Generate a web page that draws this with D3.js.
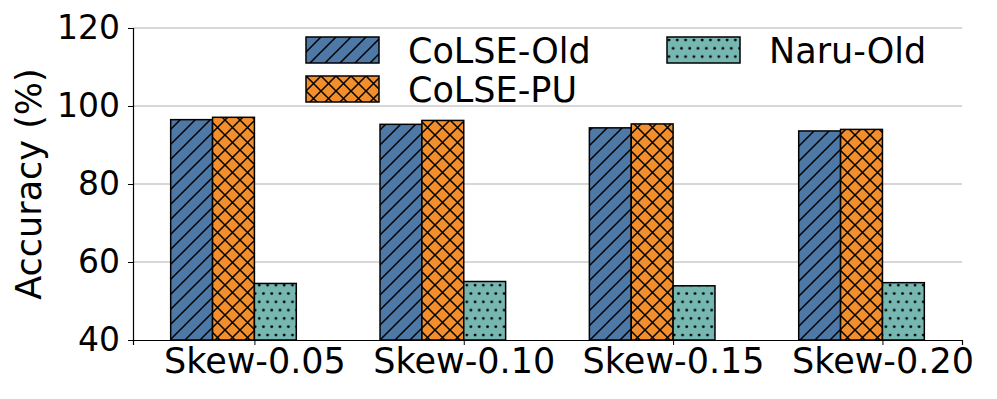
<!DOCTYPE html>
<head>
  <meta charset='utf-8'>
  <title>Accuracy by skew</title>
  <style>
    body { margin: 0; background: #fff; }
    svg text { font-family: "DejaVu Sans", sans-serif; fill: #000; }
  </style>
</head>
<body>
  <div id="chart"></div>
  <script src="https://cdn.jsdelivr.net/npm/d3@7"></script>
  <script type="text/javascript">
    // data
    var categories = ["Skew-0.05", "Skew-0.10", "Skew-0.15", "Skew-0.20"];
    var seriesNames = ["CoLSE-Old", "CoLSE-PU", "Naru-Old"];
    var colseOld = [96.5, 95.3, 94.4, 93.6];
    var colsePU = [97.1, 96.3, 95.4, 94.0];
    var naruOld = [54.5, 55.0, 53.9, 54.7];
    var yTicks = [40, 60, 80, 100, 120];

    var colors = ["#4e79a7", "#f28e2b", "#76b7b2"];
    var hatches = ["diag", "cross", "dots"];
    var offsets = [-0.2, 0, 0.2];
    var barWidth = 0.2;
    var series = [colseOld, colsePU, naruOld];

    var width = 997, height = 399;
    var margin = {left: 133, right: 35, top: 28, bottom: 59};

    var svg = d3.select("#chart").append("svg")
        .attr("width", width)
        .attr("height", height);

    var x = d3.scaleLinear()
        .domain([-0.48, 3.48])
        .range([margin.left, width - margin.right]);

    var y = d3.scaleLinear()
        .domain([40, 120])
        .range([height - margin.bottom, margin.top]);

    // hatch patterns
    var defs = svg.append("defs");
    var s = 15;
    var diag = "M0," + s + "L" + s + ",0M-2,2L2,-2M" + (s - 2) + "," + (s + 2) + "L" + (s + 2) + "," + (s - 2);
    var anti = "M0,0L" + s + "," + s + "M-2," + (s - 2) + "L2," + (s + 2) + "M" + (s - 2) + ",-2L" + (s + 2) + ",2";

    var p = defs.append("pattern").attr("id", "diag")
        .attr("patternUnits", "userSpaceOnUse")
        .attr("width", s).attr("height", s);
    p.append("rect").attr("width", s).attr("height", s).attr("fill", colors[0]);
    p.append("path").attr("d", diag)
        .attr("stroke", "#000").attr("stroke-width", 1.5);

    p = defs.append("pattern").attr("id", "cross")
        .attr("patternUnits", "userSpaceOnUse")
        .attr("width", s).attr("height", s);
    p.append("rect").attr("width", s).attr("height", s).attr("fill", colors[1]);
    p.append("path").attr("d", diag + anti)
        .attr("stroke", "#000").attr("stroke-width", 1.5);

    p = defs.append("pattern").attr("id", "dots")
        .attr("patternUnits", "userSpaceOnUse")
        .attr("width", 8.3).attr("height", 16.6);
    p.append("rect").attr("width", 8.3).attr("height", 16.6).attr("fill", colors[2]);
    [[2, 3], [6.15, 11.3]].forEach(function(c) {
      p.append("circle").attr("cx", c[0]).attr("cy", c[1]).attr("r", 1.4).attr("fill", "#000");
    });

    // grid
    svg.append("g")
      .selectAll("line")
        .data(yTicks.slice(1))
      .enter().append("line")
        .attr("x1", x.range()[0]).attr("x2", x.range()[1])
        .attr("y1", function(d) { return y(d); })
        .attr("y2", function(d) { return y(d); })
        .attr("stroke", "#b0b0b0").attr("stroke-width", 1.2);

    // bars
    series.forEach(function(vals, si) {
      svg.append("g")
        .selectAll("rect")
          .data(vals)
        .enter().append("rect")
          .attr("x", function(d, i) { return x(i + offsets[si] - barWidth / 2); })
          .attr("width", x(barWidth) - x(0))
          .attr("y", function(d) { return y(d); })
          .attr("height", function(d) { return y(40) - y(d); })
          .attr("fill", "url(#" + hatches[si] + ")")
          .attr("stroke", "#000").attr("stroke-width", 1.5);
    });

    // axes
    var yAxis = svg.append("g")
        .attr("transform", "translate(" + margin.left + ",0)")
        .call(d3.axisLeft(y).tickValues(yTicks).tickSize(5).tickPadding(8));
    yAxis.selectAll("text").attr("font-size", 33).attr("font-family", "DejaVu Sans");

    var xAxis = svg.append("g")
        .attr("transform", "translate(0," + y(40) + ")")
        .call(d3.axisBottom(x)
          .tickValues(categories.map(function(d, i) { return i + 0.1; }))
          .tickFormat(function(d, i) { return categories[i]; })
          .tickSize(5).tickPadding(3));
    xAxis.selectAll("text").attr("font-size", 35).attr("font-family", "DejaVu Sans");

    svg.selectAll(".domain").attr("stroke", "#000").attr("stroke-width", 1.2);
    svg.selectAll(".tick line").attr("stroke", "#000");

    svg.append("text")
        .attr("transform", "translate(41," + (y(80)) + ") rotate(-90)")
        .attr("text-anchor", "middle")
        .attr("font-size", 35)
        .text("Accuracy (%)");

    // legend
    var legendPos = [[306, 37], [306, 76], [667, 37]];
    seriesNames.forEach(function(name, i) {
      var g = svg.append("g").attr("transform", "translate(" + legendPos[i][0] + "," + legendPos[i][1] + ")");
      g.append("rect")
          .attr("width", 73).attr("height", 26)
          .attr("fill", "url(#" + hatches[i] + ")")
          .attr("stroke", "#000").attr("stroke-width", 1.5);
      g.append("text")
          .attr("x", 102).attr("y", 26)
          .attr("font-size", 35)
          .text(name);
    });
  </script>
</body>
